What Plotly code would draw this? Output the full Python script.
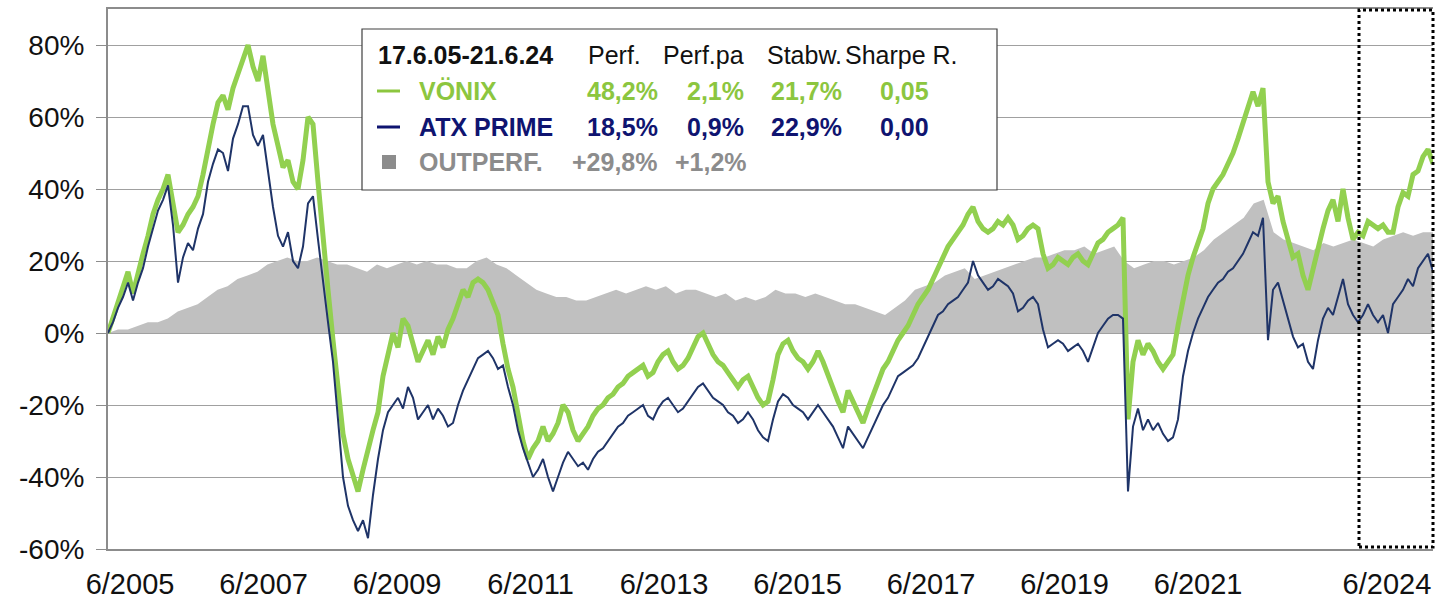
import numpy as np
import plotly.graph_objects as go

# ---------------- data ----------------
T_START, T_END = 2005.13, 2024.98          # span of the sampled series (decimal years)

vonix = [
    0, 4, 8, 12, 17, 11, 17, 22, 27, 33,
    37, 40, 44, 36, 28, 30, 33, 35, 38, 44,
    52, 58, 64, 66, 62, 68, 72, 76, 80, 74,
    70, 77, 68, 58, 52, 46, 48, 42, 40, 48,
    60, 58, 42, 25, 12, -2, -15, -28, -35, -40,
    -44, -38, -32, -27, -22, -12, -6, 0, -4, 4,
    2, -3, -8, -5, -2, -6, -1, -4, 1, 4,
    8, 12, 10, 14, 15, 14, 12, 8, 5, -3,
    -10, -15, -22, -30, -35, -32, -30, -26, -30, -28,
    -25, -20, -22, -27, -30, -28, -26, -23, -21, -20,
    -18, -17, -15, -14, -12, -11, -10, -9, -12, -11,
    -8, -6, -5, -8, -10, -9, -7, -4, -1, 0,
    -3, -6, -8, -9, -11, -13, -15, -13, -12, -15,
    -18, -20, -19, -13, -6, -3, -2, -5, -7, -8,
    -10, -8, -5, -8, -12, -15, -19, -22, -16, -19,
    -22, -25, -21, -17, -13, -10, -8, -5, -2, 0,
    2, 5, 8, 10, 12, 15, 18, 21, 24, 26,
    28, 30, 33, 35, 31, 29, 28, 29, 31, 30,
    32, 30, 26, 27, 29, 30, 29, 22, 18, 19,
    21, 20, 19, 21, 22, 20, 19, 22, 25, 26,
    28, 29, 30, 32, -24, -8, -2, -6, -3, -5,
    -8, -10, -8, -6, 2, 10, 16, 21, 25, 29,
    36, 40, 42, 44, 47, 50, 54, 58, 63, 67,
    63, 68, 42, 36, 38, 31, 26, 21, 22, 16,
    12, 18, 24, 29, 34, 37, 31, 40, 32, 26,
    28, 27, 31, 30, 29, 30, 28, 28, 35, 39,
    38, 44, 45, 49, 51, 47,
]

atx_prime = [
    0, 3, 7, 10, 14, 9, 14, 18, 24, 29,
    34, 37, 41, 30, 14, 21, 25, 23, 29, 33,
    42, 47, 51, 50, 45, 54, 58, 63, 63, 55,
    52, 55, 45, 35, 27, 24, 28, 20, 18, 24,
    36, 38, 26, 14, 3, -8, -25, -40, -48, -52,
    -55, -52, -57, -45, -35, -27, -22, -20, -18, -21,
    -15, -18, -24, -22, -20, -24, -21, -23, -26, -25,
    -20, -16, -13, -10, -7, -6, -5, -7, -10, -9,
    -15, -20, -27, -32, -36, -40, -38, -35, -40, -44,
    -40, -36, -33, -35, -37, -36, -38, -35, -33, -32,
    -30, -28, -26, -25, -23, -22, -21, -20, -23, -24,
    -21, -19, -18, -20, -22, -21, -19, -17, -15, -14,
    -16, -18, -19, -20, -22, -23, -25, -24, -22, -24,
    -27, -29, -30, -24, -19, -17, -18, -20, -21, -22,
    -24, -22, -20, -22, -24, -26, -29, -32, -26, -28,
    -30, -32, -29, -26, -23, -20, -18, -15, -12, -11,
    -10, -9, -7, -4, -1, 2, 5, 6, 8, 9,
    10, 12, 14, 20, 16, 14, 12, 13, 15, 14,
    13, 11, 6, 7, 9, 10, 8, 1, -4, -3,
    -2, -3, -5, -4, -3, -5, -8, -4, 0, 2,
    4, 5, 5, 4, -44, -26, -21, -27, -24, -27,
    -25, -28, -30, -29, -24, -12, -5, 0, 4, 7,
    10, 12, 14, 15, 17, 18, 20, 22, 25, 28,
    27, 32, -2, 12, 14, 9, 4, -1, -4, -3,
    -8, -10, -2, 4, 7, 5, 10, 15, 8, 5,
    3, 5, 8, 5, 3, 5, 0, 8, 10, 12,
    15, 13, 18, 20, 22, 17,
]

outperformance = [
    0, 1, 1, 2, 3, 3, 4, 6, 7, 8,
    10, 12, 13, 15, 16, 17, 19, 20, 21, 20,
    20, 21, 20, 19, 19, 18, 17, 19, 18, 19,
    20, 19, 20, 19, 19, 18, 18, 20, 21, 19,
    18, 16, 14, 12, 11, 10, 10, 9, 9, 10,
    11, 12, 11, 12, 13, 12, 13, 11, 12, 12,
    11, 10, 11, 9, 10, 9, 10, 12, 11, 11,
    10, 11, 10, 9, 8, 8, 7, 6, 5, 7,
    9, 12, 13, 14, 16, 17, 18, 15, 16, 17,
    18, 19, 20, 21, 21, 22, 23, 23, 24, 22,
    23, 24, 20, 18, 19, 20, 20, 19, 20, 21,
    23, 26, 28, 30, 32, 36, 37, 28, 26, 25,
    24, 23, 25, 24, 25, 26, 25, 24, 26, 27,
    28, 27, 28, 28,
]

tick_years = [2005.46, 2007.46, 2009.46, 2011.46, 2013.46, 2015.46,
              2017.46, 2019.46, 2021.46, 2024.29]
tick_labels = ["6/2005", "6/2007", "6/2009", "6/2011", "6/2013", "6/2015",
               "6/2017", "6/2019", "6/2021", "6/2024"]
y_ticks = [-60, -40, -20, 0, 20, 40, 60, 80]

period = "17.6.05-21.6.24"
stat_headers = ["Perf.", "Perf.pa", "Stabw.", "Sharpe R."]
vonix_stats = ["48,2%", "2,1%", "21,7%", "0,05"]
atx_stats = ["18,5%", "0,9%", "22,9%", "0,00"]
outperf_stats = ["+29,8%", "+1,2%"]

# ---------------- styling ----------------
W, H = 1439, 600
ML, MR, MT, MB = 108, 6, 9, 51
GREEN = "#92d050"
GREEN_TXT = "#8cc63f"
NAVY = "#1f3468"
NAVY_TXT = "#0f1470"
GREY_FILL = "#c0c0c0"
GREY_TXT = "#8c8c8c"
AXIS = "#8c8c8c"
FONT = "Liberation Sans, Arial, sans-serif"

x_main = np.linspace(T_START, T_END, len(vonix))
x_out = np.linspace(T_START, T_END, len(outperformance))

fig = go.Figure()
fig.add_trace(go.Scatter(x=x_out, y=outperformance, mode="lines", fill="tozeroy",
                         fillcolor=GREY_FILL, line=dict(width=0, color=GREY_FILL),
                         name="OUTPERF.", hoverinfo="skip"))
fig.add_trace(go.Scatter(x=x_main, y=vonix, mode="lines",
                         line=dict(color=GREEN, width=5), name="VÖNIX"))
fig.add_trace(go.Scatter(x=x_main, y=atx_prime, mode="lines",
                         line=dict(color=NAVY, width=2), name="ATX PRIME"))

pw, ph = W - ML - MR, H - MT - MB


def px(xp):
    return (xp - ML) / pw


def py(yp):
    return (H - MB - yp) / ph


shapes = []
annotations = []

# legend / statistics box
shapes.append(dict(type="rect", xref="paper", yref="paper",
                   x0=px(362), x1=px(997), y0=py(190), y1=py(29),
                   fillcolor="white", line=dict(color="#404040", width=1.2), layer="above"))


def txt(x, y, s, color, bold=False, anchor="left", size=25):
    annotations.append(dict(xref="paper", yref="paper", x=px(x), y=py(y),
                            xanchor=anchor, yanchor="middle", showarrow=False,
                            text=f"<b>{s}</b>" if bold else s,
                            font=dict(family=FONT, size=size, color=color)))


row_y = [55, 91, 127, 162]
txt(376, row_y[0], period, "#111111", bold=True)
for s, xl in zip(stat_headers, [586, 661, 765, 843]):
    txt(xl, row_y[0], s, "#111111")

val_right = [660, 746, 844, 931]
txt(417, row_y[1], "VÖNIX", GREEN_TXT, bold=True)
for s, xr in zip(vonix_stats, val_right):
    txt(xr, row_y[1], s, GREEN_TXT, bold=True, anchor="right")
txt(417, row_y[2], "ATX PRIME", NAVY_TXT, bold=True)
for s, xr in zip(atx_stats, val_right):
    txt(xr, row_y[2], s, NAVY_TXT, bold=True, anchor="right")
txt(417, row_y[3], "OUTPERF.", GREY_TXT, bold=True)
for s, xr in zip(outperf_stats, [660, 749]):
    txt(xr, row_y[3], s, GREY_TXT, bold=True, anchor="right")

# legend markers
shapes.append(dict(type="line", xref="paper", yref="paper", x0=px(377), x1=px(400),
                   y0=py(row_y[1]), y1=py(row_y[1]), line=dict(color=GREEN_TXT, width=3), layer="above"))
shapes.append(dict(type="line", xref="paper", yref="paper", x0=px(377), x1=px(400),
                   y0=py(row_y[2]), y1=py(row_y[2]), line=dict(color=NAVY_TXT, width=3), layer="above"))
shapes.append(dict(type="rect", xref="paper", yref="paper", x0=px(382), x1=px(396),
                   y0=py(row_y[3] + 7), y1=py(row_y[3] - 7), fillcolor=GREY_TXT,
                   line=dict(width=0), layer="above"))

# dotted highlight box on the right
shapes.append(dict(type="rect", xref="paper", yref="paper", x0=px(1359), x1=px(1433),
                   y0=py(547), y1=py(10), line=dict(color="black", width=3, dash="dot"),
                   fillcolor="rgba(0,0,0,0)", layer="above"))

fig.update_layout(
    width=W, height=H, margin=dict(l=ML, r=MR, t=MT, b=MB, pad=0, autoexpand=False),
    paper_bgcolor="white", plot_bgcolor="white", showlegend=False,
    font=dict(family=FONT, color="#111111"),
    shapes=shapes, annotations=annotations,
    xaxis=dict(range=[T_START, T_END], tickmode="array", tickvals=tick_years,
               ticktext=tick_labels, showgrid=False, zeroline=False, automargin=False,
               showline=True, linecolor=AXIS, linewidth=2, mirror=True,
               ticks="", ticklabelstandoff=8,
               tickfont=dict(family=FONT, size=29, color="#111111")),
    yaxis=dict(range=[-60, 90], tickmode="array", tickvals=y_ticks,
               ticktext=[f"{v}%" for v in y_ticks], showgrid=True, automargin=False,
               gridcolor="#a0a0a0", gridwidth=1, zeroline=False,
               showline=True, linecolor=AXIS, linewidth=2,
               ticks="outside", ticklen=10, tickcolor=AXIS, tickwidth=1,
               ticklabelstandoff=6,
               tickfont=dict(family=FONT, size=28, color="#111111")),
)

fig.write_html("out.html", config={"displayModeBar": False},
               post_script="document.body.style.margin='0';")
